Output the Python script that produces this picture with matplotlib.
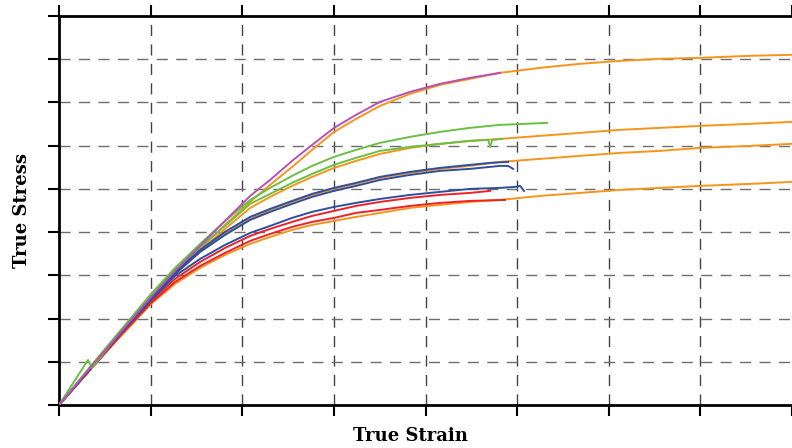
import matplotlib
matplotlib.use("Agg")
import matplotlib.pyplot as plt

# ---- data: true strain / true stress ----
strain_common = [0, 0.0169, 0.0333, 0.0502, 0.0633, 0.0770, 0.0906, 0.1043, 0.1152,
                 0.1272, 0.1381, 0.1501, 0.1621, 0.1752, 0.1916, 0.2080, 0.2243]
strain_sim_tail = [0.2407, 0.2626, 0.2844, 0.3062, 0.3281, 0.3499, 0.3772, 0.4000]

# magenta experiment
mag_x = strain_common + [0.2407]
mag_y = [0, 85.6, 166.7, 250.0, 310.2, 368.1, 425.9, 483.8, 520.8, 564.8, 601.8, 641.2,
         671.3, 701.4, 724.5, 743.1, 756.9, 768.5]

# simulation 1 (orange, top)
sim1_x = strain_common + strain_sim_tail
sim1_y = [0, 83.3, 164.4, 245.4, 305.6, 361.1, 416.7, 469.9, 509.3, 550.9, 590.3, 631.9,
          662.0, 692.1, 719.9, 740.7, 754.6, 768.5, 780.1, 789.4, 796.3, 800.9, 803.2, 807.9, 810.2]

# green experiments
g1_x = strain_common + [0.2407, 0.2544, 0.2664]
g1_y = [0, 88.0, 171.3, 256.9, 317.1, 372.7, 425.9, 474.5, 502.3, 530.1, 553.2, 574.1,
        590.3, 606.5, 620.4, 631.9, 641.2, 648.1, 650.5, 652.8]

g2_x = [0, 0.0158, 0.0180, 0.0333, 0.0502, 0.0633, 0.0770, 0.0906, 0.1043, 0.1152, 0.1272,
        0.1381, 0.1501, 0.1621, 0.1752, 0.1916, 0.2080, 0.2243, 0.2342, 0.2353, 0.2364, 0.2418]
g2_y = [0, 104.2, 85.6, 169.0, 252.3, 312.5, 365.7, 414.3, 465.3, 488.4, 513.9,
        534.7, 555.6, 571.8, 588.0, 597.2, 604.2, 611.1, 613.4, 597.2, 613.4, 615.7]

# simulation 2
sim2_x = strain_common + strain_sim_tail
sim2_y = [0, 83.3, 164.4, 243.1, 303.2, 356.5, 407.4, 456.0, 481.5, 506.9, 527.8, 548.6,
          564.8, 581.0, 594.9, 604.2, 611.1, 615.7, 622.7, 629.6, 636.6, 641.2, 645.8, 650.5, 655.1]

# blue experiments (upper pair)
b1_x = strain_common + [0.2353, 0.2451]
b1_y = [0, 85.6, 166.7, 247.7, 307.9, 358.8, 400.5, 435.2, 453.7, 472.2, 488.4, 502.3,
        513.9, 527.8, 539.4, 548.6, 555.6, 560.2, 562.5]

b2_x = strain_common + [0.2407, 0.2451, 0.2478]
b2_y = [0, 83.3, 164.4, 245.4, 303.2, 354.2, 393.5, 428.2, 446.8, 465.3, 481.5, 495.4,
        506.9, 520.8, 532.4, 541.7, 546.3, 553.2, 553.2, 546.3]

# simulation 3
sim3_x = strain_common + strain_sim_tail
sim3_y = [0, 83.3, 164.4, 243.1, 303.2, 354.2, 395.8, 430.6, 451.4, 469.9, 486.1, 500.0,
          511.6, 525.5, 537.0, 546.3, 553.2, 562.5, 569.4, 576.4, 583.3, 588.0, 594.9, 599.5, 604.2]

# lower group: blue + two red experiments
b3_x = strain_common + [0.2407, 0.2489, 0.2516, 0.2538]
b3_y = [0, 83.3, 164.4, 243.1, 298.6, 338.0, 370.4, 398.1, 414.3, 432.9, 446.8, 458.3,
        467.6, 476.8, 486.1, 493.1, 500.0, 502.3, 504.6, 506.9, 495.4]

r1_x = strain_common + [0.2353]
r1_y = [0, 81.0, 162.0, 240.7, 291.7, 331.0, 363.4, 391.2, 407.4, 423.6, 437.5, 449.1,
        460.6, 469.9, 479.2, 486.1, 490.7, 495.4]

r2_x = strain_common + [0.2434]
r2_y = [0, 81.0, 159.7, 236.1, 284.7, 321.8, 351.9, 379.6, 395.8, 412.0, 423.6, 432.9,
        444.4, 451.4, 460.6, 467.6, 472.2, 474.5]

# simulation 4
sim4_x = strain_common + strain_sim_tail
sim4_y = [0, 81.0, 157.4, 233.8, 280.1, 317.1, 347.2, 372.7, 388.9, 405.1, 416.7, 425.9,
          435.2, 444.4, 456.0, 463.0, 469.9, 474.5, 483.8, 490.7, 497.7, 502.3, 506.9, 511.6, 516.2]

x_ticks = [0, 0.05, 0.10, 0.15, 0.20, 0.25, 0.30, 0.35, 0.40]
y_ticks = [0, 100, 200, 300, 400, 500, 600, 700, 800, 900]

ORANGE = "#f7941d"
GREEN = "#6abf45"
BLUE = "#2e4f9e"
RED = "#ec2227"
MAGENTA = "#b552b5"

fig = plt.figure(figsize=(7.92, 4.48), dpi=100)
ax = fig.add_axes([59/792, 43/448, 1 - 59/792, (405-16)/448])

lw = 1.4
ax.plot(sim4_x, sim4_y, color=ORANGE, lw=lw, zorder=3)
ax.plot(r2_x, r2_y, color=RED, lw=lw, zorder=4)
ax.plot(r1_x, r1_y, color=RED, lw=lw, zorder=4)
ax.plot(b3_x, b3_y, color=BLUE, lw=lw, zorder=4)
ax.plot(sim3_x, sim3_y, color=ORANGE, lw=lw, zorder=3)
ax.plot(b2_x, b2_y, color=BLUE, lw=lw, zorder=4)
ax.plot(b1_x, b1_y, color=BLUE, lw=lw, zorder=4)
ax.plot(sim2_x, sim2_y, color=ORANGE, lw=lw, zorder=3)
ax.plot(g2_x, g2_y, color=GREEN, lw=lw, zorder=4)
ax.plot(g1_x, g1_y, color=GREEN, lw=lw, zorder=4)
ax.plot(sim1_x, sim1_y, color=ORANGE, lw=lw, zorder=3)
ax.plot(mag_x, mag_y, color=MAGENTA, lw=lw, zorder=4)

ax.set_xlim(0, 0.4)
ax.set_ylim(0, 900)
ax.set_xticks(x_ticks)
ax.set_yticks(y_ticks)
ax.set_xticklabels([])
ax.set_yticklabels([])

for xv in x_ticks[1:-1]:
    ax.axvline(xv, color="#444444", lw=1.0, dashes=(8, 6), zorder=1)
for yv in y_ticks[1:-1]:
    ax.axhline(yv, color="#6e6e6e", lw=1.0, dashes=(8, 6), zorder=1)

ax.tick_params(axis="both", direction="out", length=8, width=1.5, color="black",
               top=True, bottom=True, left=True, right=False)
for side in ["left", "bottom", "top"]:
    ax.spines[side].set_linewidth(2)
    ax.spines[side].set_color("black")
ax.spines["right"].set_visible(False)

fig.text(410/792, 1 - 436/448, "True Strain", ha="center", va="center",
         fontsize=13, fontweight="bold", family="DejaVu Serif")
fig.text(22/792, 1 - 210/448, "True Stress", ha="center", va="center",
         rotation=90, fontsize=13, fontweight="bold", family="DejaVu Serif")

fig.savefig("out.png", dpi=100)
